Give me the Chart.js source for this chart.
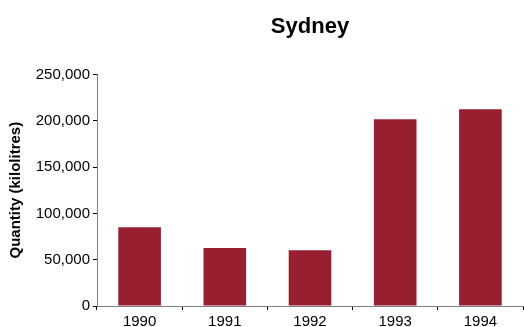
<!DOCTYPE html>
<html>
<head>
<meta charset="utf-8">
<script src="https://cdn.jsdelivr.net/npm/chart.js@4/dist/chart.umd.min.js"></script>
<style>
  html, body { margin: 0; padding: 0; background: #fff; }
  #wrap { width: 524px; height: 327px; position: relative; }
</style>
</head>
<body>
<div id="wrap"><canvas id="c" width="524" height="327"></canvas></div>
<script>
// Annual quantity for Sydney, kilolitres
const years = ['1990', '1991', '1992', '1993', '1994'];
const quantities = [85000, 62500, 60300, 201500, 212300];
const yTicks = [0, 50000, 100000, 150000, 200000, 250000];

const FONT = "'Liberation Sans', Arial, sans-serif";
const AXIS = '#808080';

new Chart(document.getElementById('c'), {
  type: 'bar',
  data: {
    labels: years,
    datasets: [{
      data: quantities,
      backgroundColor: '#981F2F',
      borderWidth: 0,
      barPercentage: 0.5,
      categoryPercentage: 1.0
    }]
  },
  options: {
    responsive: false,
    animation: false,
    layout: { padding: { left: 0, right: 1, top: 0, bottom: 0 } },
    plugins: {
      legend: { display: false },
      tooltip: { enabled: false },
      title: {
        display: true,
        text: 'Sydney',
        fullSize: false,
        color: '#000',
        font: { family: FONT, size: 22, weight: 'bold' },
        padding: { top: 14, bottom: 34 }
      }
    },
    scales: {
      x: {
        grid: {
          display: true,
          offset: true,
          drawOnChartArea: false,
          drawTicks: true,
          tickLength: 4,
          color: '#000'
        },
        border: { display: true, color: AXIS, width: 1 },
        ticks: {
          color: '#000',
          padding: 3,
          font: { family: FONT, size: 15 }
        },
        afterFit: s => { s.height = 21; }
      },
      y: {
        min: 0,
        max: 250000,
        afterBuildTicks: s => { s.ticks = yTicks.map(v => ({ value: v })); },
        grid: {
          display: true,
          drawOnChartArea: false,
          drawTicks: true,
          tickLength: 4,
          color: '#000'
        },
        border: { display: true, color: AXIS, width: 1 },
        ticks: {
          color: '#000',
          padding: 3,
          font: { family: FONT, size: 15 },
          callback: v => v.toLocaleString('en-US')
        },
        title: {
          display: true,
          text: 'Quantity (kilolitres)',
          color: '#000',
          font: { family: FONT, size: 15, weight: 'bold' },
          padding: { top: 7, bottom: 0 }
        },
        afterFit: s => { s.width = 97; }
      }
    }
  }
});
</script>
</body>
</html>
